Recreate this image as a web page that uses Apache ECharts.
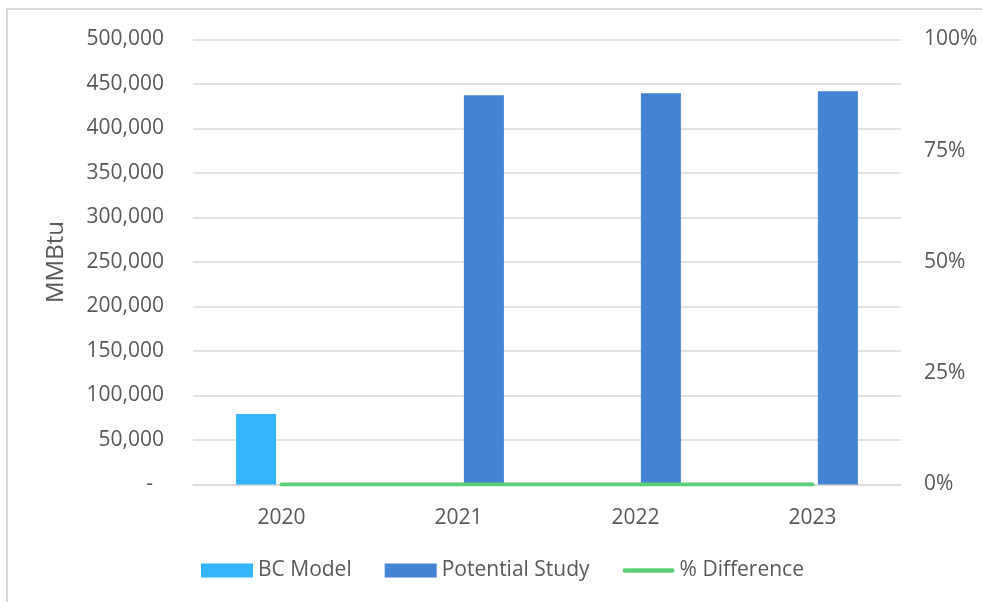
<!DOCTYPE html>
<html>
<head>
<meta charset="utf-8">
<script src="https://cdn.jsdelivr.net/npm/echarts@6/dist/echarts.min.js"></script>
<style>
  html, body { margin: 0; padding: 0; background: #fff; }
  #main { width: 982px; height: 602px; }
</style>
</head>
<body>
<div id="main"></div>
<script>
// data
var years = ['2020', '2021', '2022', '2023'];
var bcModel = [79200, null, null, null];
var potentialStudy = [null, 437300, 439500, 441800];
var pctDifference = [0, 0, 0, 0];

var textColor = '#595959';
var font = '"Open Sans", "Noto Sans", sans-serif';

var myChart = echarts.init(document.getElementById('main'));

var option = {
    backgroundColor: '#fff',
    textStyle: { fontFamily: font, color: textColor },
    graphic: [{
        type: 'rect',
        z: -10,
        shape: { x: 7, y: 9, width: 2000, height: 2000 },
        style: { fill: 'none', stroke: '#d9d9d9', lineWidth: 2 }
    }],
    grid: {
        left: 193,
        right: 81,
        top: 39.5,
        bottom: 117.5
    },
    legend: {
        top: 555,
        left: 196,
        itemWidth: 52,
        itemHeight: 14,
        itemGap: 33,
        textStyle: { fontFamily: font, fontSize: 21, color: textColor },
        data: [
            { name: 'BC Model', icon: 'rect' },
            { name: 'Potential Study', icon: 'rect' },
            { name: '% Difference', icon: 'path://M2.5,0 L53.5,0 A2.5,2.5 0 0 1 53.5,5 L2.5,5 A2.5,2.5 0 0 1 2.5,0 Z' }
        ]
    },
    xAxis: {
        type: 'category',
        data: years,
        axisLine: { show: true, lineStyle: { color: '#d9d9d9', width: 1.5 } },
        axisTick: { show: false },
        axisLabel: { fontSize: 21, color: textColor, margin: 23, fontFamily: font }
    },
    yAxis: [{
        type: 'value',
        min: 0,
        max: 500000,
        interval: 50000,
        name: 'MMBtu',
        nameLocation: 'middle',
        nameGap: 125,
        nameTextStyle: { fontSize: 24, color: textColor, fontFamily: font },
        axisLine: { show: false },
        axisTick: { show: false },
        splitLine: { lineStyle: { color: '#d9d9d9', width: 1.5 } },
        axisLabel: {
            fontSize: 21,
            color: textColor,
            margin: 29,
            fontFamily: font,
            formatter: function(v) {
                if (v === 0) return '-  ';
                return v.toString().replace(/\B(?=(\d{3})+(?!\d))/g, ',');
            }
        }
    }, {
        type: 'value',
        min: 0,
        max: 1,
        interval: 0.25,
        axisLine: { show: false },
        axisTick: { show: false },
        splitLine: { show: false },
        axisLabel: {
            fontSize: 21,
            color: textColor,
            margin: 23,
            fontFamily: font,
            formatter: function(v) { return Math.round(v * 100) + '%'; }
        }
    }],
    series: [{
        name: 'BC Model',
        type: 'bar',
        data: bcModel,
        barWidth: 40,
        barGap: '27%',
        itemStyle: { color: '#33b5ff' }
    }, {
        name: 'Potential Study',
        type: 'bar',
        data: potentialStudy,
        barWidth: 40,
        barGap: '27%',
        itemStyle: { color: '#4584d4' }
    }, {
        name: '% Difference',
        type: 'line',
        yAxisIndex: 1,
        data: pctDifference,
        symbol: 'none',
        z: 5,
        lineStyle: { color: '#5bd079', width: 4, cap: 'round' },
        itemStyle: { color: '#5bd079' }
    }]
};

myChart.setOption(option);
</script>
</body>
</html>
